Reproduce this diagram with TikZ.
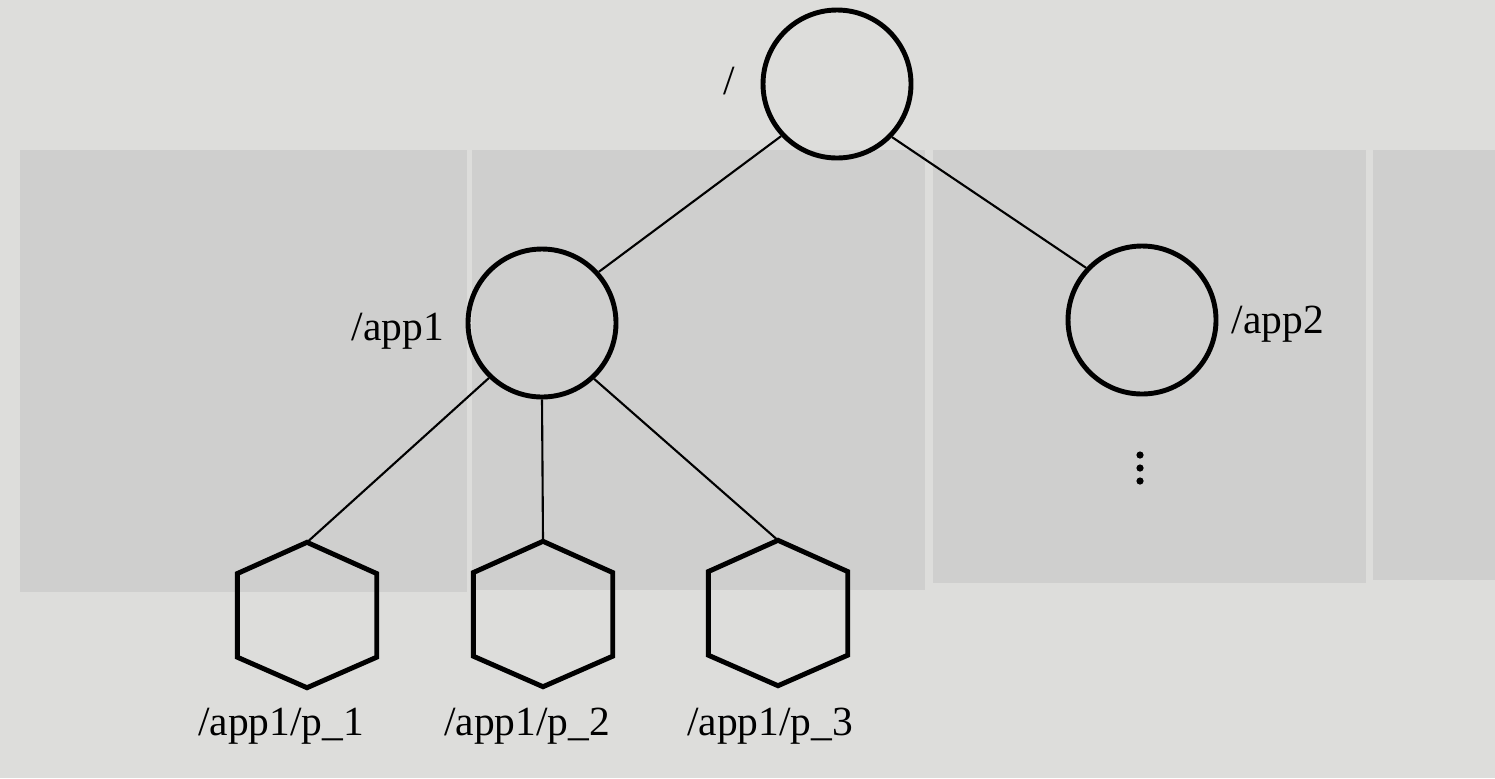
\documentclass[tikz,border=0pt]{standalone}
\usepackage{fontspec}
\setmainfont{Liberation Serif}
\usetikzlibrary{calc}
\definecolor{pagegray}{RGB}{221,221,219}
\definecolor{shadegray}{RGB}{207,207,206}
\tikzset{
  circnode/.style={circle, draw=black, line width=1.4pt, minimum size=148*0.1mm, inner sep=0pt},
  hexnode/.style={rectangle, minimum width=138*0.1mm, minimum height=144*0.1mm, inner sep=0pt},
  hexline/.style={draw=black, line width=1.4pt, line join=miter},
  edge/.style={draw=black, line width=0.6pt},
  lbl/.style={inner sep=0pt, anchor=base, font=\fontsize{11.8}{14}\selectfont},
  bgrect/.style={fill=shadegray, draw=none}
}
\begin{document}
\begin{tikzpicture}[x=0.1mm, y=-0.1mm]
\useasboundingbox (0,0) rectangle (1495,778);
% page background and faint shaded areas
\fill[pagegray] (0,0) rectangle (1495,778);
\fill[bgrect] (20,150) rectangle (467,592);
\fill[bgrect] (472,150) rectangle (925,590);
\fill[bgrect] (933,150) rectangle (1366,583);
\fill[bgrect] (1373,150) rectangle (1495,580);

% tree nodes
\node[circnode] (root) at (837,84) {};
\node[circnode] (app1) at (542,323) {};
\node[circnode] (app2) at (1142,320) {};
\node[hexnode] (p1) at (307,615) {};
\node[hexnode] (p2) at (543,614) {};
\node[hexnode] (p3) at (778,613) {};
\foreach \n in {p1,p2,p3}
  \draw[hexline] (\n.north) -- ($(\n.north east)!0.215!(\n.south east)$)
     -- ($(\n.north east)!0.79!(\n.south east)$) -- (\n.south)
     -- ($(\n.north west)!0.79!(\n.south west)$)
     -- ($(\n.north west)!0.215!(\n.south west)$) -- cycle;

% labels
\node[lbl] (lroot) at (729,94) {/};
\node[lbl] (lapp1) at (398,340) {/app1};
\node[lbl] (lapp2) at (1278,333) {/app2};
\node[lbl] (lp1) at (281,735) {/app1/p\_1};
\node[lbl] (lp2) at (527,735) {/app1/p\_2};
\node[lbl] (lp3) at (770,735) {/app1/p\_3};

% connectors
\draw[edge] (root.223) -- (app1.42);
\draw[edge] (root.-44) -- (app2.137);
\draw[edge] (app1.226) -- (p1.north);
\draw[edge] (app1.south) -- (p2.north);
\draw[edge] (app1.-47) -- (p3.north);

% continuation dots
\foreach \y in {455,468,481}
  \fill[black] (1140,\y) circle[radius=3.6];
\end{tikzpicture}
\end{document}
